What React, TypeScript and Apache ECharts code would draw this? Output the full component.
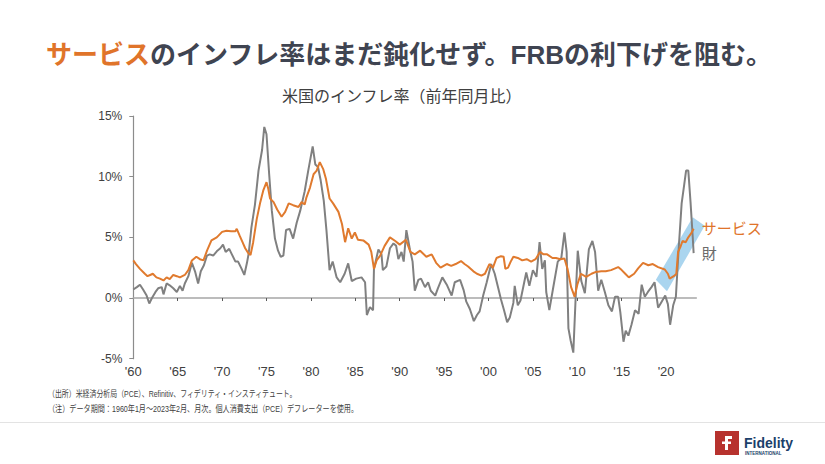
import React, { useEffect, useRef } from "react";
import * as echarts from "echarts";

// ---- data (year, % yoy) ----
const servicesData: [number, number][] = [
  [1960.0, 3.1], [1960.3, 2.8], [1960.75, 2.4], [1961.3, 2.0], [1961.6, 1.8], [1961.9, 1.9],
  [1962.2, 2.0], [1962.6, 1.7], [1963.0, 1.6], [1963.4, 1.45], [1963.75, 1.7], [1964.1, 1.55],
  [1964.5, 1.9], [1964.9, 1.8], [1965.25, 1.7], [1965.8, 1.9], [1966.2, 2.3], [1966.6, 3.1],
  [1967.1, 3.4], [1967.5, 3.2], [1967.9, 3.1], [1968.3, 3.9], [1968.8, 4.75], [1969.4, 5.0],
  [1970.0, 5.45], [1970.5, 5.55], [1971.0, 5.5], [1971.5, 5.5], [1971.65, 5.7], [1972.0, 5.1],
  [1972.3, 4.6], [1972.6, 4.1], [1972.95, 3.7], [1973.2, 3.55], [1973.5, 4.6], [1973.9, 6.5],
  [1974.3, 7.9], [1974.65, 8.9], [1975.0, 9.55], [1975.2, 9.0], [1975.4, 8.2], [1975.8, 7.9],
  [1976.2, 7.3], [1976.7, 6.7], [1977.1, 7.1], [1977.5, 7.8], [1978.0, 7.65], [1978.6, 7.5],
  [1978.95, 7.9], [1979.3, 7.7], [1979.5, 8.3], [1979.9, 9.1], [1980.3, 10.2], [1980.65, 10.5],
  [1981.0, 11.2], [1981.4, 10.6], [1981.7, 9.8], [1982.1, 8.2], [1982.5, 7.8], [1983.1, 7.1],
  [1983.5, 6.1], [1983.85, 4.6], [1984.2, 5.75], [1984.6, 4.9], [1984.95, 5.4], [1985.3, 4.8],
  [1985.9, 4.75], [1986.5, 4.4], [1986.8, 3.8], [1987.1, 2.4], [1987.4, 3.1], [1987.8, 3.5],
  [1988.3, 4.3], [1988.9, 5.0], [1989.5, 4.7], [1990.0, 4.4], [1990.7, 4.8], [1991.2, 3.8],
  [1991.7, 3.6], [1992.3, 3.9], [1993.0, 3.4], [1993.6, 3.6], [1994.1, 2.9], [1994.6, 2.5],
  [1995.3, 2.8], [1995.8, 2.65], [1996.3, 2.8], [1996.9, 3.05], [1997.3, 2.8], [1997.7, 2.6],
  [1998.3, 2.2], [1998.7, 2.0], [1999.2, 1.85], [1999.6, 2.0], [2000.1, 2.8], [2000.5, 2.5],
  [2000.9, 3.3], [2001.4, 3.45], [2001.7, 3.4], [2001.9, 2.4], [2002.2, 2.5], [2002.5, 3.0],
  [2002.8, 3.4], [2003.3, 3.3], [2003.8, 3.1], [2004.3, 3.2], [2004.8, 3.0], [2005.3, 3.2],
  [2005.8, 3.8], [2006.2, 3.6], [2006.6, 3.6], [2007.2, 3.3], [2007.6, 3.3], [2008.1, 3.2],
  [2008.55, 3.25], [2008.9, 2.4], [2009.3, 0.9], [2009.55, 0.4], [2009.7, 0.1], [2010.0, 1.1],
  [2010.4, 2.0], [2011.0, 1.75], [2011.6, 2.0], [2012.1, 2.15], [2012.7, 2.2], [2013.2, 2.2],
  [2013.8, 2.3], [2014.6, 2.55], [2015.0, 2.3], [2015.4, 2.0], [2015.8, 1.7], [2016.4, 2.0],
  [2016.85, 2.45], [2017.4, 2.9], [2018.0, 2.7], [2018.5, 2.8], [2019.1, 2.55], [2019.85, 2.35],
  [2020.2, 2.0], [2020.4, 1.6], [2020.95, 1.85], [2021.15, 2.0], [2021.35, 3.8], [2021.6, 4.2],
  [2021.85, 4.7], [2022.2, 4.6], [2022.5, 5.0], [2022.8, 5.3], [2023.1, 5.7],
];

const goodsData: [number, number][] = [
  [1960.0, 0.7], [1960.4, 0.9], [1960.75, 1.1], [1961.1, 0.7], [1961.5, 0.2], [1961.8, -0.45],
  [1962.1, 0.0], [1962.5, 0.5], [1962.8, 0.8], [1963.2, 0.9], [1963.4, 0.3], [1963.75, 1.2],
  [1964.1, 1.05], [1964.5, 0.8], [1964.9, 0.5], [1965.25, 1.0], [1965.55, 0.6], [1965.8, 1.2],
  [1966.2, 1.8], [1966.6, 2.9], [1966.95, 2.2], [1967.3, 1.2], [1967.6, 2.2], [1967.95, 2.7],
  [1968.3, 3.5], [1968.6, 3.6], [1969.0, 3.5], [1969.4, 3.85], [1969.8, 4.1], [1970.1, 4.4],
  [1970.4, 3.8], [1970.8, 4.05], [1971.1, 3.6], [1971.5, 3.0], [1971.8, 3.0], [1972.2, 2.4],
  [1972.5, 1.9], [1972.8, 2.9], [1973.0, 3.7], [1973.3, 5.8], [1973.7, 7.7], [1974.1, 10.5],
  [1974.5, 12.2], [1974.75, 14.1], [1975.0, 13.5], [1975.3, 10.2], [1975.6, 7.2], [1975.95, 4.9],
  [1976.3, 3.9], [1976.6, 3.4], [1976.9, 3.5], [1977.2, 5.6], [1977.6, 5.7], [1978.0, 4.9],
  [1978.4, 6.2], [1978.8, 7.2], [1979.3, 8.8], [1979.7, 10.5], [1980.2, 12.5], [1980.5, 11.0],
  [1980.8, 10.8], [1981.1, 9.7], [1981.45, 8.0], [1981.75, 5.6], [1982.1, 2.3], [1982.45, 3.0],
  [1982.9, 1.7], [1983.3, 1.3], [1983.8, 2.0], [1984.2, 2.85], [1984.6, 1.4], [1985.1, 1.6],
  [1985.7, 1.7], [1986.1, 1.3], [1986.3, -1.4], [1986.65, -0.75], [1987.0, -1.0], [1987.1, 2.4],
  [1987.6, 4.0], [1987.95, 3.6], [1988.1, 2.3], [1988.5, 2.6], [1988.9, 4.1], [1989.3, 4.5],
  [1989.6, 4.3], [1989.85, 3.2], [1990.2, 3.8], [1990.45, 3.0], [1990.75, 5.6], [1991.15, 4.0],
  [1991.45, 3.0], [1991.7, 0.6], [1992.1, 1.5], [1992.4, 1.6], [1992.85, 0.9], [1993.2, 1.3],
  [1993.5, 0.6], [1994.0, 0.2], [1994.3, 0.8], [1994.8, 1.7], [1995.3, 1.1], [1995.85, 0.2],
  [1996.2, 1.3], [1996.8, 1.5], [1997.2, 0.65], [1997.5, -0.3], [1997.9, -0.9], [1998.35, -1.9],
  [1998.7, -1.4], [1999.0, -1.1], [1999.4, 0.2], [1999.8, 1.3], [2000.3, 2.8], [2000.7, 2.0],
  [2001.1, 0.8], [2001.4, -0.1], [2001.75, -1.0], [2002.1, -2.0], [2002.4, -1.6], [2002.8, -0.4],
  [2002.95, 1.0], [2003.3, -0.6], [2003.6, -0.2], [2004.25, 2.1], [2004.6, 1.0], [2005.0, 2.3],
  [2005.4, 1.75], [2005.75, 4.6], [2006.05, 2.4], [2006.35, 3.1], [2006.5, 0.5], [2006.85, -1.0],
  [2007.25, 0.7], [2007.8, 3.0], [2008.2, 3.3], [2008.55, 5.4], [2008.8, 3.8], [2009.0, -2.5],
  [2009.25, -3.5], [2009.55, -4.5], [2009.8, -0.2], [2010.05, 3.9], [2010.45, 1.4], [2010.85, 0.4],
  [2011.3, 4.0], [2011.7, 4.7], [2012.0, 3.8], [2012.35, 0.6], [2012.7, 1.5], [2013.1, 0.5],
  [2013.5, -0.6], [2013.9, -1.1], [2014.25, 0.1], [2014.6, 0.1], [2014.85, -1.2], [2015.2, -3.6],
  [2015.45, -2.7], [2015.75, -3.1], [2016.1, -2.2], [2016.5, -1.0], [2016.9, -1.3], [2017.25, 1.1],
  [2017.6, 0.1], [2017.95, 0.5], [2018.35, 0.9], [2018.7, 1.3], [2019.1, -0.8], [2019.5, -0.3],
  [2019.9, 0.2], [2020.2, -0.5], [2020.45, -2.2], [2020.8, -0.6], [2021.1, 0.1], [2021.4, 3.9],
  [2021.75, 7.8], [2022.05, 9.4], [2022.25, 10.5], [2022.5, 10.5], [2022.75, 7.9], [2023.0, 5.0],
  [2023.1, 3.7],
];

// highlighted band corners (year, %)
const bandCorners: [number, number][] = [
  [2018.85, 1.5], [2020.1, 0.55], [2024.35, 5.95], [2023.0, 6.65],
];

const labelYears = [1960, 1965, 1970, 1975, 1980, 1985, 1990, 1995, 2000, 2005, 2010, 2015, 2020];
const tickYears = [1965, 1970, 1975, 1980, 1985, 1990, 1995, 2000, 2005, 2010, 2015, 2020];

const TITLE_MAIN = "のインフレ率はまだ鈍化せず。FRBの利下げを阻む。";
const TITLE_HEAD = "サービス";
const SUBTITLE = "米国のインフレ率（前年同月比）";
const NOTE1 = "（出所）米経済分析局（PCE）、Refinitiv、フィデリティ・インスティテュート。";
const NOTE2 = "（注）データ期間：1960年1月～2023年2月、月次。個人消費支出（PCE）デフレーターを使用。";

const FONT = "'Liberation Sans', 'Noto Sans CJK JP', sans-serif";
const ORANGE = "#E07A2E";
const GRAY = "#808080";

export default function App() {
  const ref = useRef<HTMLDivElement>(null);

  useEffect(() => {
    if (!ref.current) return;
    const chart = echarts.init(ref.current, null, { renderer: "svg" });
    const xMin = 1960;
    const xMax = 2023.4;
    chart.setOption({
      animation: false,
      backgroundColor: "#ffffff",
      textStyle: { fontFamily: FONT },
      title: [
        {
          text: `{a|${TITLE_HEAD}}{b|${TITLE_MAIN}}`,
          left: 41,
          top: 34,
          textStyle: {
            rich: {
              a: { color: "#E0742A", fontSize: 26, fontWeight: "bold", fontFamily: FONT, lineHeight: 31 },
              b: { color: "#3f4451", fontSize: 26, fontWeight: "bold", fontFamily: FONT, lineHeight: 31 },
            },
          },
        },
        {
          text: SUBTITLE,
          left: 277,
          top: 83,
          textStyle: { color: "#404040", fontSize: 16, fontWeight: "normal", fontFamily: FONT },
        },
      ],
      grid: { left: 133.3, right: 128.7, top: 116, bottom: 105.3, containLabel: false },
      xAxis: [
        {
          type: "value",
          min: xMin,
          max: xMax,
          position: "bottom",
          axisLine: { show: false, onZero: false },
          axisTick: { show: false },
          splitLine: { show: false },
          axisLabel: {
            customValues: labelYears,
            formatter: (v: number) => "'" + String(v).slice(2),
            margin: 6,
            fontSize: 13,
            color: "#404040",
            fontFamily: FONT,
          },
        },
        {
          type: "value",
          min: xMin,
          max: xMax,
          position: "top",
          axisLine: { show: true, onZero: true, lineStyle: { color: "#a6a6a6", width: 1.5 } },
          axisTick: { show: true, inside: true, length: 3, customValues: tickYears, lineStyle: { color: "#595959" } },
          axisLabel: { show: false },
          splitLine: { show: false },
        },
      ],
      yAxis: {
        type: "value",
        min: -5,
        max: 15,
        interval: 5,
        axisLine: { show: true, lineStyle: { color: "#8c8c8c", width: 1.2 } },
        axisTick: { show: true, length: 4, lineStyle: { color: "#8c8c8c" } },
        splitLine: { show: false },
        axisLabel: { formatter: "{value}%", margin: 11, fontSize: 12, color: "#404040", fontFamily: FONT },
      },
      graphic: [
        { type: "line", shape: { x1: 0, y1: 422.5, x2: 825, y2: 422.5 }, style: { stroke: "#e3e3e3", lineWidth: 1 } },
        {
          type: "text", x: 48, y: 394, scaleX: 0.77,
          style: { text: NOTE1, fontSize: 9, fill: "#404040", fontFamily: FONT, verticalAlign: "middle" },
        },
        {
          type: "text", x: 48, y: 409, scaleX: 0.79,
          style: { text: NOTE2, fontSize: 9, fill: "#404040", fontFamily: FONT, verticalAlign: "middle" },
        },
        { type: "rect", shape: { x: 715, y: 431, width: 24, height: 24 }, style: { fill: "#B7322E" } },
        { type: "rect", shape: { x: 725, y: 436, width: 3, height: 14 }, style: { fill: "#ffffff" } },
        { type: "rect", shape: { x: 725, y: 436, width: 7, height: 3 }, style: { fill: "#ffffff" } },
        { type: "rect", shape: { x: 722, y: 441.5, width: 9, height: 2.5 }, style: { fill: "#ffffff" } },
        {
          type: "text", x: 744, y: 443,
          style: { text: "Fidelity", fontSize: 14, fontWeight: "bold", fill: "#1B3F6B", fontFamily: FONT, verticalAlign: "middle" },
        },
        {
          type: "text", x: 745, y: 453,
          style: { text: "INTERNATIONAL", fontSize: 4.5, fontWeight: "bold", fill: "#1B3F6B", fontFamily: FONT, verticalAlign: "middle" },
        },
      ],
      series: [
        {
          type: "custom",
          xAxisIndex: 0,
          silent: true,
          z: 1,
          data: [[2021, 3]],
          renderItem: (_params: any, api: any) => ({
            type: "polygon",
            shape: { points: bandCorners.map((p) => api.coord(p)) },
            style: { fill: "#AAD5EF" },
          }),
        },
        {
          type: "line",
          name: "財",
          xAxisIndex: 0,
          data: goodsData,
          symbol: "none",
          z: 3,
          lineStyle: { color: GRAY, width: 2 },
          itemStyle: { color: GRAY },
          endLabel: { show: true, formatter: "財", color: "#6b6b6b", fontSize: 15, distance: 8, fontFamily: FONT },
        },
        {
          type: "line",
          name: "サービス",
          xAxisIndex: 0,
          data: servicesData,
          symbol: "none",
          z: 4,
          lineStyle: { color: ORANGE, width: 2 },
          itemStyle: { color: ORANGE },
          endLabel: { show: true, formatter: "サービス", color: "#E0742A", fontSize: 15, distance: 8, fontFamily: FONT },
        },
      ],
    });
    return () => chart.dispose();
  }, []);

  return (
    <div
      ref={ref}
      style={{ position: "absolute", left: 0, top: 0, width: 825, height: 464, background: "#fff" }}
    />
  );
}
